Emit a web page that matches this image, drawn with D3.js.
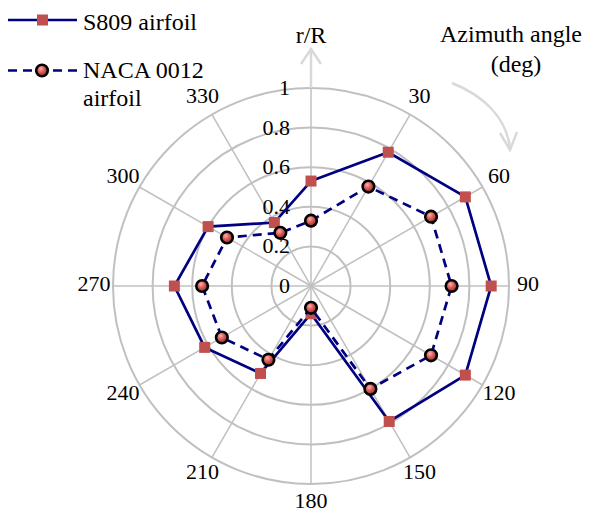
<!DOCTYPE html>
<html>
<head>
<meta charset="utf-8">
<script src="https://cdn.jsdelivr.net/npm/d3@7"></script>
<style>
  body { margin: 0; background: #fff; }
  text { font-family: "Liberation Serif", "Times New Roman", serif; fill: #000; }
</style>
</head>
<body>
<div class="chart"></div>
<script>
// azimuth angles (deg) and r/R values
var angles = [0, 30, 60, 90, 120, 150, 180, 210, 240, 270, 300, 330];
var s809 = [0.53, 0.78, 0.90, 0.91, 0.90, 0.79, 0.14, 0.51, 0.62, 0.69, 0.60, 0.37];
var naca = [0.33, 0.58, 0.70, 0.71, 0.70, 0.60, 0.11, 0.43, 0.52, 0.55, 0.49, 0.31];
var radialTicks = [0, 0.2, 0.4, 0.6, 0.8, 1];
var seriesNames = ['S809 airfoil', 'NACA 0012'];

var width = 596,
	height = 514,
	cx = 311,
	cy = 286,
	R = 198;

var navy = '#000080',
	red = '#c0504d',
	grid = '#c0c0c0',
	light = '#d9d9d9';

var svg = d3.select('.chart').append('svg')
	.attr('width', width)
	.attr('height', height);

var defs = svg.append('defs');
var grad = defs.append('radialGradient')
	.attr('id', 'ball')
	.attr('cx', '40%').attr('cy', '35%').attr('r', '65%');
grad.append('stop').attr('offset', '0%').attr('stop-color', '#ffb0b0');
grad.append('stop').attr('offset', '45%').attr('stop-color', '#dc5f5b');
grad.append('stop').attr('offset', '100%').attr('stop-color', '#8e2f2c');

var r = d3.scaleLinear().domain([0, 1]).range([0, R]);
var a = d3.scaleLinear().domain([0, 360]).range([0, 2 * Math.PI]);

function px(deg, v) { return cx + r(v) * Math.sin(a(deg)); }
function py(deg, v) { return cy - r(v) * Math.cos(a(deg)); }

var g = svg.append('g');

// rings
g.selectAll('.ring').data(radialTicks.filter(function(d) { return d > 0; }))
	.enter().append('circle')
	.attr('cx', cx).attr('cy', cy)
	.attr('r', function(d) { return r(d); })
	.attr('fill', 'none')
	.attr('stroke', grid)
	.attr('stroke-width', 2);

// spokes
g.selectAll('.spoke').data(angles)
	.enter().append('line')
	.attr('x1', cx).attr('y1', cy)
	.attr('x2', function(d) { return px(d, 1); })
	.attr('y2', function(d) { return py(d, 1); })
	.attr('stroke', grid)
	.attr('stroke-width', 1.5);

// r/R axis arrow above the circle
g.append('line')
	.attr('x1', cx).attr('y1', cy - R)
	.attr('x2', cx).attr('y2', 48)
	.attr('stroke', light)
	.attr('stroke-width', 2.5);
g.append('path')
	.attr('d', 'M' + (cx - 10) + ',64 L' + cx + ',49 L' + (cx + 10) + ',64')
	.attr('fill', 'none')
	.attr('stroke', light)
	.attr('stroke-width', 2.5);

// curved azimuth arrow
g.append('path')
	.attr('d', 'M452,83 C482,95 506,116 510,148')
	.attr('fill', 'none')
	.attr('stroke', light)
	.attr('stroke-width', 2.5);
g.append('path')
	.attr('d', 'M500,133 L510,150 L517,132')
	.attr('fill', 'none')
	.attr('stroke', light)
	.attr('stroke-width', 2.5);

// radial tick labels
g.selectAll('.rlab').data(radialTicks)
	.enter().append('text')
	.attr('x', 290)
	.attr('y', function(d) { return cy - r(d) + 2; })
	.attr('text-anchor', 'end')
	.attr('dominant-baseline', 'middle')
	.style('font-size', '22px')
	.text(function(d) { return d; });

// angle labels
g.selectAll('.alab').data(angles.filter(function(d) { return d > 0; }))
	.enter().append('text')
	.attr('x', function(d) { return cx + 217 * Math.sin(a(d)); })
	.attr('y', function(d) { return cy - 217 * Math.cos(a(d)); })
	.attr('text-anchor', 'middle')
	.attr('dominant-baseline', 'middle')
	.style('font-size', '22px')
	.text(function(d) { return d; });

// titles
svg.append('text')
	.attr('x', cx).attr('y', 43)
	.attr('text-anchor', 'middle')
	.style('font-size', '24px')
	.text('r/R');
svg.append('text')
	.attr('x', 511).attr('y', 42)
	.attr('text-anchor', 'middle')
	.style('font-size', '24px')
	.text('Azimuth angle');
svg.append('text')
	.attr('x', 516).attr('y', 72)
	.attr('text-anchor', 'middle')
	.style('font-size', '24px')
	.text('(deg)');

// series
var line = d3.lineRadial()
	.angle(function(d, i) { return a(angles[i]); })
	.radius(function(d) { return r(d); })
	.curve(d3.curveLinearClosed);

var plot = svg.append('g').attr('transform', 'translate(' + cx + ',' + cy + ')');

plot.append('path')
	.attr('d', line(s809))
	.attr('fill', 'none')
	.attr('stroke', navy)
	.attr('stroke-width', 2.7);

plot.selectAll('.sq').data(s809)
	.enter().append('rect')
	.attr('x', function(d, i) { return px(angles[i], d) - cx - 5.5; })
	.attr('y', function(d, i) { return py(angles[i], d) - cy - 5.5; })
	.attr('width', 11).attr('height', 11)
	.attr('fill', red);

plot.append('path')
	.attr('d', line(naca))
	.attr('fill', 'none')
	.attr('stroke', navy)
	.attr('stroke-width', 2.7)
	.attr('stroke-dasharray', '9,6');

plot.selectAll('.dot').data(naca)
	.enter().append('circle')
	.attr('cx', function(d, i) { return px(angles[i], d) - cx; })
	.attr('cy', function(d, i) { return py(angles[i], d) - cy; })
	.attr('r', 5.8)
	.attr('fill', 'url(#ball)')
	.attr('stroke', '#000')
	.attr('stroke-width', 2.6);

// legend
var leg = svg.append('g');
leg.append('line')
	.attr('x1', 8).attr('x2', 77).attr('y1', 20).attr('y2', 20)
	.attr('stroke', navy).attr('stroke-width', 2.7);
leg.append('rect')
	.attr('x', 37).attr('y', 14.5).attr('width', 11).attr('height', 11)
	.attr('fill', red);
leg.append('text')
	.attr('x', 83).attr('y', 30)
	.style('font-size', '24px')
	.text(seriesNames[0]);

leg.append('line')
	.attr('x1', 8).attr('x2', 79).attr('y1', 70.5).attr('y2', 70.5)
	.attr('stroke', navy).attr('stroke-width', 2.7)
	.attr('stroke-dasharray', '9,6');
leg.append('circle')
	.attr('cx', 42).attr('cy', 70.5).attr('r', 5.8)
	.attr('fill', 'url(#ball)')
	.attr('stroke', '#000').attr('stroke-width', 2.6);
leg.append('text')
	.attr('x', 83).attr('y', 78)
	.style('font-size', '24px')
	.text(seriesNames[1]);
leg.append('text')
	.attr('x', 83).attr('y', 106)
	.style('font-size', '24px')
	.text('airfoil');
</script>
</body>
</html>
